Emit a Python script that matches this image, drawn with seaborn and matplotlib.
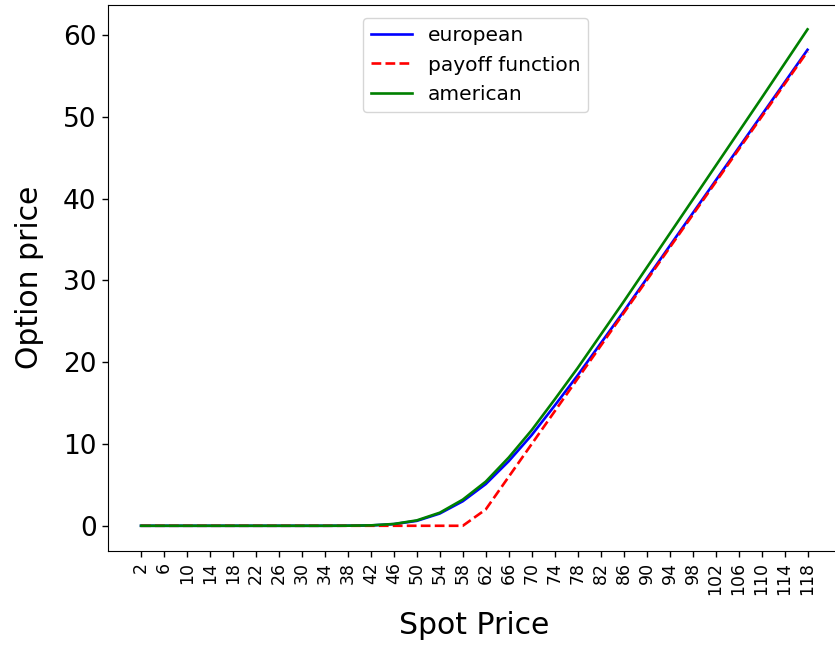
import matplotlib
matplotlib.use("Agg")
import matplotlib.pyplot as plt
import seaborn as sns
import pandas as pd

spot = [2, 6, 10, 14, 18, 22, 26, 30, 34, 38, 42, 46, 50, 54, 58,
        62, 66, 70, 74, 78, 82, 86, 90, 94, 98, 102, 106, 110, 114, 118]
european = [0, 0, 0, 0, 0, 0, 0, 0, 0, 0.01, 0.04, 0.2, 0.6, 1.5, 3.0,
            5.1, 7.9, 11.1, 14.7, 18.4, 22.3, 26.2, 30.2, 34.2, 38.2,
            42.2, 46.2, 50.2, 54.2, 58.2]
payoff = [0, 0, 0, 0, 0, 0, 0, 0, 0, 0, 0, 0, 0, 0, 0,
          2, 6, 10, 14, 18, 22, 26, 30, 34, 38, 42, 46, 50, 54, 58]
american = [0, 0, 0, 0, 0, 0, 0, 0, 0, 0.01, 0.05, 0.22, 0.66, 1.6, 3.2,
            5.4, 8.35, 11.7, 15.45, 19.3, 23.35, 27.4, 31.55, 35.7, 39.85,
            44.0, 48.15, 52.3, 56.5, 60.7]

df = pd.DataFrame({"spot": spot, "european": european,
                   "payoff": payoff, "american": american})

fig = plt.figure(figsize=(8.35, 6.47), dpi=100)
ax = fig.add_axes([0.129, 0.149, 0.878, 0.844])

sns.lineplot(data=df, x="spot", y="european", ax=ax, color="blue",
             label="european", linewidth=1.9)
sns.lineplot(data=df, x="spot", y="payoff", ax=ax, color="red",
             label="payoff function", linewidth=1.9, linestyle="--")
sns.lineplot(data=df, x="spot", y="american", ax=ax, color="green",
             label="american", linewidth=1.9)

ax.set_xticks(spot)
ax.set_xticklabels([str(s) for s in spot], rotation=90, fontsize=12.5)
ax.tick_params(axis="y", labelsize=19)
ax.tick_params(length=4.5, width=1.0)
ax.set_xlabel("Spot Price", fontsize=21.5, labelpad=12)
ax.set_ylabel("Option price", fontsize=21.5, labelpad=14)
ax.legend(loc="upper center", fontsize=14.5, bbox_to_anchor=(0.502, 0.993))

fig.savefig("out.png", dpi=100)
